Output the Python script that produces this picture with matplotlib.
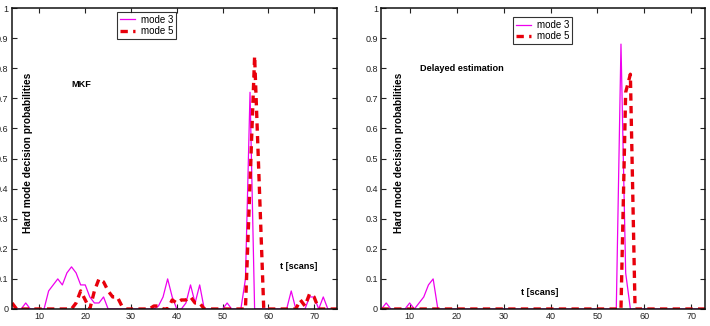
import numpy as np
import matplotlib
matplotlib.use("Agg")
import matplotlib.pyplot as plt

plt.rcParams['font.family'] = ['Liberation Sans', 'DejaVu Sans']

# Scan index for each panel
t_mkf = list(range(4, 76))
t_delayed = list(range(4, 74))

# MKF panel: hard mode decision probabilities
mkf_mode3 = [0, 0, 0, 0.02, 0, 0, 0, 0, 0.06, 0.08, 0.10, 0.08, 0.12, 0.14,
             0.12, 0.08, 0.08, 0.04, 0.02, 0.02, 0.04, 0, 0, 0, 0, 0, 0, 0,
             0, 0, 0, 0, 0.01, 0.04, 0.10, 0.04, 0, 0, 0.02, 0.08, 0.02, 0.08,
             0, 0, 0, 0, 0, 0.02, 0, 0, 0, 0.10, 0.72, 0, 0, 0, 0, 0, 0, 0,
             0, 0.06, 0, 0, 0, 0.04, 0.04, 0, 0.04, 0, 0, 0]
mkf_mode5 = [0.02, 0, 0, 0, 0, 0, 0, 0, 0, 0, 0, 0, 0, 0, 0.02, 0.06, 0.03,
             0, 0.06, 0.10, 0.09, 0.06, 0.04, 0.04, 0.01, 0, 0, 0, 0, 0, 0,
             0.01, 0.01, 0, 0, 0.03, 0.02, 0.03, 0.03, 0.04, 0.02, 0.02, 0, 0,
             0, 0, 0, 0, 0, 0, 0, 0, 0.42, 0.84, 0.42, 0, 0, 0, 0, 0, 0, 0,
             0, 0.03, 0.01, 0.05, 0.04, 0, 0, 0, 0, 0]

# Delayed estimation panel
delayed_mode3 = [0, 0.02, 0, 0, 0, 0, 0.02, 0, 0.02, 0.04, 0.08, 0.10, 0,
                 0, 0, 0, 0, 0, 0, 0, 0, 0, 0, 0, 0, 0, 0, 0, 0, 0, 0, 0, 0,
                 0, 0, 0, 0, 0, 0, 0, 0, 0, 0, 0, 0, 0, 0, 0, 0, 0, 0, 0.88,
                 0.12, 0, 0, 0, 0, 0, 0, 0, 0, 0, 0, 0, 0, 0, 0, 0, 0, 0]
delayed_mode5 = [0, 0, 0, 0, 0, 0, 0, 0, 0, 0, 0, 0, 0, 0, 0, 0, 0, 0, 0, 0,
                 0, 0, 0, 0, 0, 0, 0, 0, 0, 0, 0, 0, 0, 0, 0, 0, 0, 0, 0, 0,
                 0, 0, 0, 0, 0, 0, 0, 0, 0, 0, 0, 0, 0.72, 0.78, 0, 0, 0, 0,
                 0, 0, 0, 0, 0, 0, 0, 0, 0, 0, 0, 0]

ytick_vals = [0, 0.1, 0.2, 0.3, 0.4, 0.5, 0.6, 0.7, 0.8, 0.9, 1]
ytick_labels = ['0', '0.1', '0.2', '0.3', '0.4', '0.5', '0.6', '0.7', '0.8', '0.9', '1']
xtick_vals = [10, 20, 30, 40, 50, 60, 70]

MAGENTA = '#ee00ee'
RED = '#e8000b'


def draw_panel(ax, t, m3, m5, xmax, title, title_xy, tlabel_xy, ylabel_x, legend_xy):
    ax.plot(t, m3, color=MAGENTA, lw=0.9, label='mode 3')
    ax.plot(t, m5, color=RED, lw=2.4, ls=(0, (2.2, 1.6)), label='mode 5')

    ax.set_xlim(4, xmax)
    ax.set_ylim(0, 1)
    ax.set_xticks(xtick_vals)
    ax.set_yticks(ytick_vals)
    ax.set_yticklabels(ytick_labels)
    ax.tick_params(direction='in', length=3.5, width=0.8, labelsize=6.5,
                   top=True, right=True, pad=2.5, colors='#222222')
    for sp in ax.spines.values():
        sp.set_linewidth(1.1)
        sp.set_color('#111111')

    # Labels sit inside the plot area, like the original figure
    ax.text(title_xy[0], title_xy[1], title, fontsize=6.6, fontweight='bold',
            ha='left', va='center')
    ax.text(tlabel_xy[0], tlabel_xy[1], 't [scans]', fontsize=6.6,
            fontweight='bold', ha='left', va='center')
    ax.text(ylabel_x, 0.52, 'Hard mode decision probabilities', fontsize=7.3,
            fontweight='bold', rotation=90, ha='center', va='center')

    leg = ax.legend(loc='upper left', bbox_to_anchor=legend_xy, fontsize=7,
                    frameon=True, fancybox=False, handlelength=1.6,
                    borderpad=0.3, labelspacing=0.15, handletextpad=0.6,
                    borderaxespad=0)
    leg.get_frame().set_edgecolor('black')
    leg.get_frame().set_linewidth(0.8)


fig = plt.figure(figsize=(7.10, 3.26), dpi=100)
ax1 = fig.add_axes([12 / 710, 17 / 326, 325 / 710, 301 / 326])
ax2 = fig.add_axes([381.5 / 710, 17 / 326, 324 / 710, 301 / 326])

draw_panel(ax1, t_mkf, mkf_mode3, mkf_mode5, 75, 'MKF', (17.0, 0.745),
           (62.5, 0.14), 7.4, (0.322, 0.987))
draw_panel(ax2, t_delayed, delayed_mode3, delayed_mode5, 73,
           'Delayed estimation', (12.3, 0.80), (33.7, 0.055), 7.7,
           (0.405, 0.97))

fig.savefig('out.png', dpi=100)
